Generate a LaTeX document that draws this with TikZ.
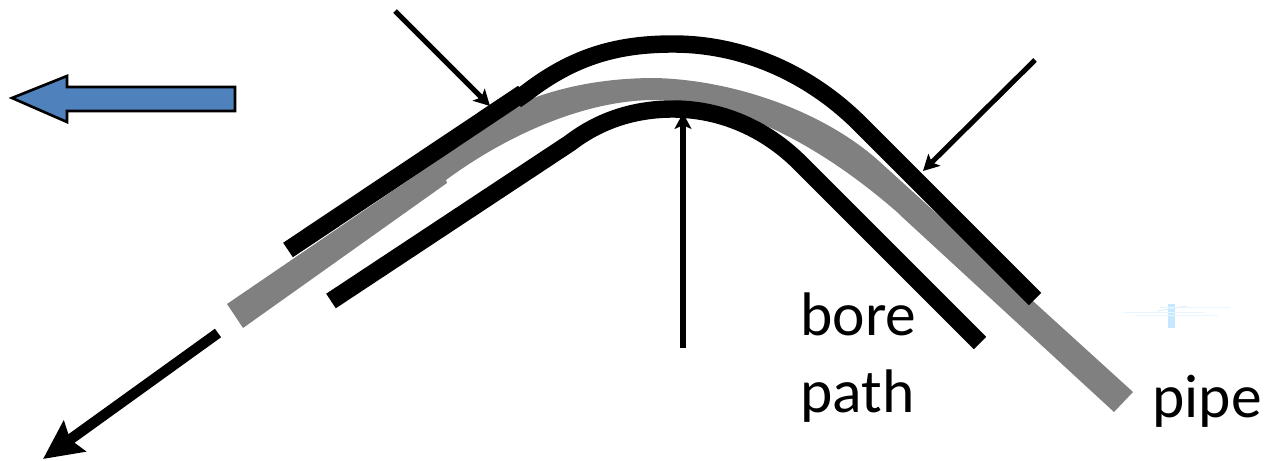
\documentclass[tikz,border=0pt]{standalone}
\usepackage{xcolor}
\usepackage{fontspec}
\setmainfont{Carlito}
\usetikzlibrary{arrows.meta, positioning}
\definecolor{pipegray}{HTML}{808080}
\definecolor{dirblue}{HTML}{4F81BD}
\definecolor{ghost}{HTML}{C5E8FF}

\begin{document}
\begin{tikzpicture}[
    x=0.2mm, y=-0.2mm,
    bore/.style={black, line width=17.5*0.567pt},
    force/.style={-{Stealth[length=9pt, width=9.5pt, inset=2pt]}, line width=2.9pt},
    pull/.style={-{Stealth[length=22pt, width=21pt, inset=3pt]}, line width=6pt},
    label/.style={font=\fontsize{35}{35}\selectfont, inner sep=0pt, anchor=base west},
]
    \useasboundingbox (0,0) rectangle (1270,461);

    % Pipe
    \fill[pipegray] (227,304) -- (523,102) .. controls (565,85) and (610,78) .. (655,78)
        .. controls (735,80) and (825,112) .. (880,162) -- (1133,392) -- (1114,412)
        -- (900,215) -- (897,212) .. controls (820,145) and (735,100) .. (655,100)
        .. controls (580,100) and (500,140) .. (446,180) -- (447,183) -- (243,328) -- cycle;

    % Bore path
    \draw[bore] (288,250) -- (523,93);
    \draw[bore] (516,100) -- (526,93) .. controls (575,55) and (620,44) .. (673,44)
        .. controls (745,44) and (810,75) .. (858,122) -- (1035,299);
    \draw[bore] (331,301) -- (570,143) .. controls (600,120) and (635,109) .. (673,109)
        .. controls (720,109) and (765,128) .. (800,163) -- (980,343);

    % Anchor points for the arrows
    \coordinate (f1a) at (395,11);
    \coordinate (f1b) at (490,106);
    \coordinate (f2a) at (1035,60);
    \coordinate (f2b) at (923,171);
    \coordinate (f3a) at (683,348);
    \coordinate (f3b) at (683,113);
    \coordinate (pa) at (218,333);
    \coordinate (pb) at (43,459);

    % Force arrows
    \draw[force] (f1a) -- (f1b);
    \draw[force] (f2a) -- (f2b);
    \draw[force] (f3a) -- (f3b);
    \draw[pull] (pa) -- (pb);

    % Direction arrow
    \draw[fill=dirblue, line width=1.5pt, miter limit=6] (12,98) -- (67,76) -- (67,87) -- (235,87)
        -- (235,111) -- (67,111) -- (67,122) -- cycle;

    % Faint mark
    \fill[ghost] (1168,304) rectangle (1175,328);
    \draw[ghost!40, line width=0.5pt] (1160,307) -- (1230,307);
    \draw[ghost!40, line width=0.5pt] (1123,312) -- (1205,312);
    \draw[ghost!40, line width=0.5pt] (1135,315) -- (1218,315);
    \draw[ghost!60, line width=0.5pt] (1157,311) -- (1187,306);

    % Labels
    \node[label] (bore) at (800,335) {bore};
    \node[label] (path) at (800,412) {path};
    \node[label] (pipe) at (1152,417) {pipe};
\end{tikzpicture}
\end{document}
